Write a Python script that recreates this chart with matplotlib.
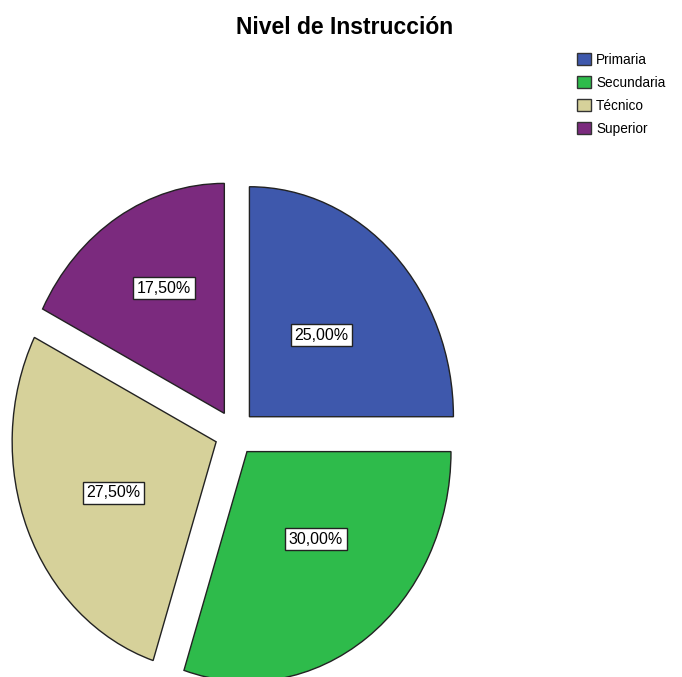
import numpy as np
import matplotlib.pyplot as plt
from matplotlib.patches import Patch

TITLE = "Nivel de Instrucción"
CATEGORIES = ["Primaria", "Secundaria", "Técnico", "Superior"]
PERCENTS = [25.0, 30.0, 27.5, 17.5]
COLORS = ["#3E58AC", "#2EBB4B", "#D6D19A", "#7B2A7E"]

W, H = 682, 677
CX, CY = 235, 433      # pie centre in pixels (from top-left)
RX, RY = 204, 230      # pixel radius horizontally / vertically (SPSS stretch)

# where SPSS puts the % boxes: distance from slice tip, small angle nudge
LABEL_R = [0.50, 0.51, 0.55, 0.62]
LABEL_DA = [0.0, 5.5, 1.3, -3.0]

fig = plt.figure(figsize=(W / 100, H / 100), dpi=100)
ax = fig.add_axes([0, 0, 1, 1])

wedges, texts, autotexts = ax.pie(
    PERCENTS, colors=COLORS, startangle=90, counterclock=False,
    explode=[0.1] * len(PERCENTS), radius=1.0,
    autopct=lambda p: f"{p:.2f}%".replace(".", ","), pctdistance=0.55,
    wedgeprops=dict(edgecolor="#222222", linewidth=1.0),
    textprops=dict(family="Liberation Sans", fontsize=11.5),
)
for w, t, r, da in zip(wedges, autotexts, LABEL_R, LABEL_DA):
    ang = np.deg2rad((w.theta1 + w.theta2) / 2 + da)
    t.set_position((w.center[0] + r * np.cos(ang), w.center[1] + r * np.sin(ang)))
    t.set_bbox(dict(boxstyle="square,pad=0.22", facecolor="white",
                    edgecolor="#222222", linewidth=1.0))

ax.set_aspect("auto")
ax.set_xlim(-CX / RX, (W - CX) / RX)
ax.set_ylim(-(H - CY) / RY, CY / RY)
ax.axis("off")

fig.text(345 / W, 1 - 28 / H, TITLE, ha="center", va="center",
         fontsize=16.5, fontweight="bold", family="Liberation Sans")

handles = [Patch(facecolor=c, edgecolor="#333333", linewidth=1.0) for c in COLORS]
leg = fig.legend(handles, CATEGORIES, loc="upper left",
                 bbox_to_anchor=(577 / W, 1 - 53 / H), frameon=False,
                 prop=dict(family="Liberation Sans", size=9.8),
                 handlelength=1.0, handleheight=1.0, handletextpad=0.4,
                 labelspacing=0.65, borderpad=0, borderaxespad=0)

fig.savefig("out.png", dpi=100)
